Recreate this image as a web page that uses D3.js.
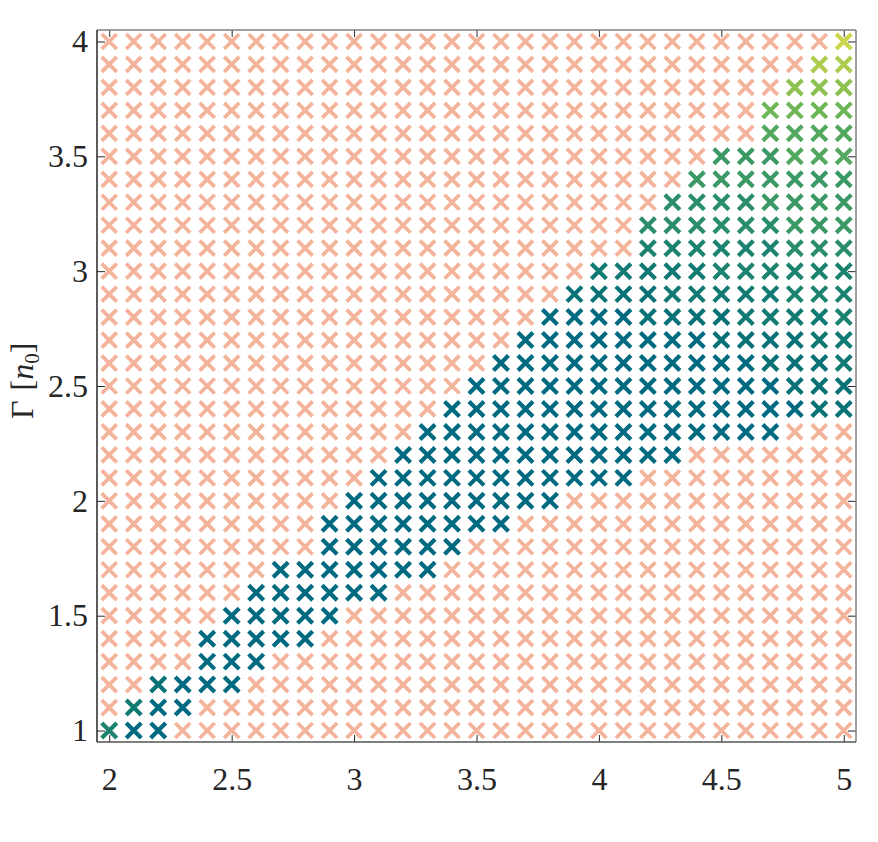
<!DOCTYPE html>
<html>
<head>
<meta charset="utf-8">
<script src="https://cdn.jsdelivr.net/npm/d3@7"></script>
<style>
  body { margin: 0; background: #fff; }
  svg text { font-family: "Liberation Serif", "DejaVu Serif", serif; }
</style>
</head>
<body>
<script>

// grid of runs
var nValues = [2.0, 2.1, 2.2, 2.3, 2.4, 2.5, 2.6, 2.7, 2.8, 2.9, 3.0, 3.1, 3.2, 3.3, 3.4, 3.5,
               3.6, 3.7, 3.8, 3.9, 4.0, 4.1, 4.2, 4.3, 4.4, 4.5, 4.6, 4.7, 4.8, 4.9, 5.0]
var gammaValues = [1.0, 1.1, 1.2, 1.3, 1.4, 1.5, 1.6, 1.7, 1.8, 1.9, 2.0, 2.1, 2.2, 2.3, 2.4, 2.5,
                   2.6, 2.7, 2.8, 2.9, 3.0, 3.1, 3.2, 3.3, 3.4, 3.5, 3.6, 3.7, 3.8, 3.9, 4.0]

// coloured band, one entry per gamma row: first n, last n, colour level of each cell
var bandStart = [2.0, 2.1, 2.2, 2.4, 2.4, 2.5, 2.6, 2.7, 2.9, 2.9, 3.0, 3.1, 3.2, 3.3, 3.4, 3.5,
                 3.6, 3.7, 3.8, 3.9, 4.0, 4.2, 4.2, 4.3, 4.4, 4.5, 4.7, 4.7, 4.8, 4.9, 5.0]
var bandEnd   = [2.2, 2.3, 2.5, 2.6, 2.8, 2.9, 3.1, 3.3, 3.4, 3.6, 3.8, 4.1, 4.3, 4.7, 5.0, 5.0,
                 5.0, 5.0, 5.0, 5.0, 5.0, 5.0, 5.0, 5.0, 5.0, 5.0, 5.0, 5.0, 5.0, 5.0, 5.0]
var bandLevel = ["300", "200", "1000", "0", "0", "0", "0", "0", "0", "0", "0", "0", "0", "0",
                 "00000000000000011", "0000000000000111", "000000000001112", "00000000111122",
                 "0000111122223", "111122222333", "22222333333", "333333444", "444444555",
                 "44445555", "5555555", "555666", "6666", "7777", "888", "99", "a"]

var levelColors = ["#006a80", "#087276", "#117a73", "#1c8370", "#2a8d6b", "#3b9966",
                   "#52a85e", "#6db656", "#8dc252", "#aecc4f", "#cad64c"]
var offColor = "#f4b49c"

var xTicks = [2, 2.5, 3, 3.5, 4, 4.5, 5]
var yTicks = [1, 1.5, 2, 2.5, 3, 3.5, 4]

var width = 878, height = 842
var box = {left: 97, right: 856, top: 30, bottom: 742}
var serif = "'Liberation Serif', 'Times New Roman', serif"
var tickFont = 32

var svg = d3.select("body").append("svg")
    .attr("width", width)
    .attr("height", height)

var x = d3.scaleLinear().domain([1.95, 5.05]).range([box.left, box.right])
var y = d3.scaleLinear().domain([0.95, 4.05]).range([box.bottom, box.top])

// build cells
var cells = []
gammaValues.forEach(function(g, i) {
    nValues.forEach(function(n) {
        var on = n >= bandStart[i] - 1e-9 && n <= bandEnd[i] + 1e-9
        var level = null
        if (on) {
            var k = Math.round((n - bandStart[i]) * 10)
            var s = bandLevel[i]
            level = parseInt(s[Math.min(k, s.length - 1)], 16)
        }
        cells.push({n: n, g: g, on: on, level: level})
    })
})

var r = 7.5
function crossPath(d) {
    var cx = x(d.n), cy = y(d.g)
    return "M" + (cx - r) + "," + (cy - r) + "L" + (cx + r) + "," + (cy + r) +
           "M" + (cx - r) + "," + (cy + r) + "L" + (cx + r) + "," + (cy - r)
}

svg.append("g").selectAll("path")
    .data(cells.filter(function(d) { return !d.on }))
    .enter().append("path")
      .attr("d", crossPath)
      .attr("stroke", offColor)
      .attr("stroke-width", 3.8)
      .attr("fill", "none")

svg.append("g").selectAll("path")
    .data(cells.filter(function(d) { return d.on }))
    .enter().append("path")
      .attr("d", crossPath)
      .attr("stroke", function(d) { return levelColors[d.level] })
      .attr("stroke-width", 4.2)
      .attr("fill", "none")

// axes, ticks pointing inward on all four sides
var gx = svg.append("g").attr("transform", "translate(0," + box.bottom + ")")
    .call(d3.axisBottom(x).tickValues(xTicks).tickFormat(d3.format("")).tickSize(-7).tickSizeOuter(0).tickPadding(25))
var gxTop = svg.append("g").attr("transform", "translate(0," + box.top + ")")
    .call(d3.axisTop(x).tickValues(xTicks).tickFormat("").tickSize(-7).tickSizeOuter(0))
var gy = svg.append("g").attr("transform", "translate(" + box.left + ",0)")
    .call(d3.axisLeft(y).tickValues(yTicks).tickFormat(d3.format("")).tickSize(-8).tickSizeOuter(0).tickPadding(9))
var gyRight = svg.append("g").attr("transform", "translate(" + box.right + ",0)")
    .call(d3.axisRight(y).tickValues(yTicks).tickFormat("").tickSize(-8).tickSizeOuter(0))

;[gx, gxTop, gy, gyRight].forEach(function(g) {
    g.attr("font-family", serif).attr("font-size", tickFont)
    g.select(".domain").remove()
    g.selectAll(".tick line").attr("stroke", "#262626").attr("stroke-width", 1)
    g.selectAll(".tick text").attr("fill", "#262626")
        .attr("font-family", serif).attr("font-size", tickFont)
})

// frame
svg.append("line").attr("x1", box.left).attr("x2", box.right).attr("y1", box.top).attr("y2", box.top)
    .attr("stroke", "#808080").attr("stroke-width", 1.5)
svg.append("line").attr("x1", box.right).attr("x2", box.right).attr("y1", box.top).attr("y2", box.bottom)
    .attr("stroke", "#808080").attr("stroke-width", 1.5)
svg.append("line").attr("x1", box.left).attr("x2", box.right).attr("y1", box.bottom).attr("y2", box.bottom)
    .attr("stroke", "#555555").attr("stroke-width", 1.5)
svg.append("line").attr("x1", box.left).attr("x2", box.left).attr("y1", box.top).attr("y2", box.bottom)
    .attr("stroke", "#262626").attr("stroke-width", 1.5)

// y label: Gamma [n_0], written upward from its bottom end
var ylab = svg.append("text")
    .attr("transform", "translate(33,419) rotate(-90)")
    .attr("text-anchor", "start")
    .attr("fill", "#262626")
    .attr("font-family", serif)
    .attr("font-size", 32)
ylab.append("tspan").text("Γ")
ylab.append("tspan").attr("dx", 10).text("[")
ylab.append("tspan").attr("font-style", "italic").text("n")
ylab.append("tspan").attr("dy", 6).attr("font-size", 21).text("0")
ylab.append("tspan").attr("dy", -6).text("]")

</script>
</body>
</html>
